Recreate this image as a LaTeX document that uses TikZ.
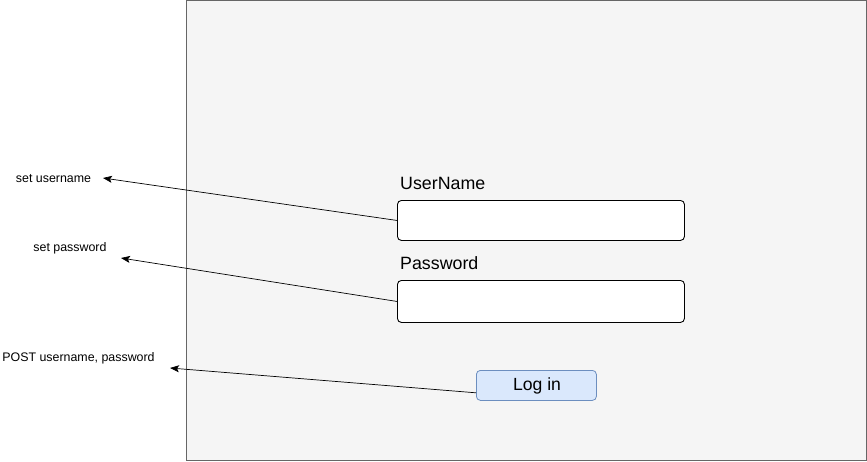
\documentclass[tikz,border=0pt]{standalone}
\usepackage{fontspec}
\setmainfont{Liberation Sans}
\usetikzlibrary{arrows.meta}
\definecolor{framefill}{HTML}{F5F5F5}
\definecolor{framedraw}{HTML}{666666}
\definecolor{btnfill}{HTML}{DAE8FC}
\definecolor{btndraw}{HTML}{6C8EBF}
\begin{document}
\begin{tikzpicture}[x=1pt,y=-1pt,
  inputbox/.style={draw=black,fill=white,rounded corners=4pt,line width=0.9pt,anchor=north west},
  fieldlabel/.style={font=\fontsize{17.8}{20}\selectfont,anchor=west,inner sep=0pt},
  sidelabel/.style={font=\fontsize{12.4}{14}\selectfont,inner sep=0pt},
  conn/.style={-{Stealth[length=9pt,width=7pt,inset=2pt]},line width=0.7pt}]
\useasboundingbox (0,0) rectangle (867,461);
\draw[framedraw,fill=framefill,line width=0.8pt] (186.5,0.5) rectangle (866,460);
\node[inputbox,minimum width=287pt,minimum height=40pt] (user) at (397,200) {};
\node[inputbox,minimum width=287pt,minimum height=42pt] (pass) at (397,280) {};
\node[fieldlabel] (userlbl) at (400,183) {UserName};
\node[fieldlabel] (passlbl) at (400,263) {Password};
\node[draw=btndraw,fill=btnfill,rounded corners=4pt,line width=0.8pt,minimum width=120pt,minimum height=30pt,anchor=north west] (login) at (476,370) {};
\node[font=\fontsize{17.6}{20}\selectfont,inner sep=0pt] (logintxt) at (537,385.5) {Log in};
\node[sidelabel] (setuser) at (53.5,179) {set username};
\node[sidelabel] (setpass) at (70,248.5) {set password};
\node[sidelabel] (post) at (78.5,358) {POST username, password};
\coordinate (tipuser) at (103,178);
\coordinate (tippass) at (121,258);
\coordinate (tippost) at (170,368);
\draw[conn] (user.west) -- (tipuser);
\draw[conn] (pass.west) -- (tippass);
\draw[conn] (login.south west) ++(0,-8) -- (tippost);
\end{tikzpicture}
\end{document}
